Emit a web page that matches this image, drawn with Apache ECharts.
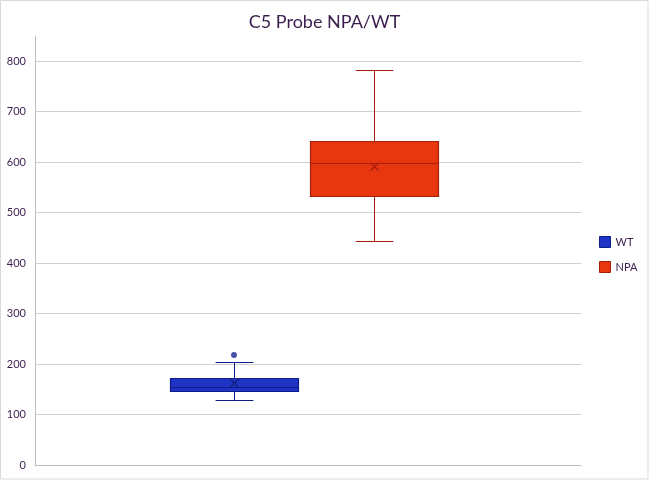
<!DOCTYPE html>
<html>
<head>
<meta charset="utf-8">
<script src="https://cdn.jsdelivr.net/npm/echarts@6/dist/echarts.min.js"></script>
<style>html,body{margin:0;padding:0;background:#fff}#c{width:649px;height:480px}</style>
</head>
<body>
<div id="c"></div>
<script>
// ---- data ----
const categories = ['WT', 'NPA'];
// [min, Q1, median, Q3, max]
const wtStats = [128, 146, 155, 172, 204];
const npaStats = [444, 532, 599, 641, 783];
const means = [162, 591];
const wtOutliers = [218];
const yTicks = [0, 100, 200, 300, 400, 500, 600, 700, 800];

const styles = [
  { fill: '#1F33C4', stroke: '#0F1D88', mark: '#14207A' },
  { fill: '#E8360F', stroke: '#A3200C', mark: '#A81E0C' }
];

const chart = echarts.init(document.getElementById('c'), null, { renderer: 'canvas' });
const font = 'Lato, "Open Sans", sans-serif';
const textColor = '#3B1E4E';

function crisp(v) { return Math.round(v) + 0.5; }

function renderBox(params, api) {
  const idx = api.value(0);
  const st = styles[idx];
  const band = api.size([1, 0])[0];
  const bw = band * 0.915;
  const cw = band * 0.27;
  const ms = 4;
  const cx = crisp(api.coord([idx, 0])[0]);
  const pMin = crisp(api.coord([idx, api.value(1)])[1]);
  const pQ1 = crisp(api.coord([idx, api.value(2)])[1]);
  const pMed = crisp(api.coord([idx, api.value(3)])[1]);
  const pQ3 = crisp(api.coord([idx, api.value(4)])[1]);
  const pMax = crisp(api.coord([idx, api.value(5)])[1]);
  const pMean = api.coord([idx, api.value(6)])[1];
  const lineStyle = { stroke: st.stroke, lineWidth: 1 };
  const bx = crisp(cx - bw / 2);
  return {
    type: 'group',
    children: [
      { type: 'line', shape: { x1: cx, y1: pMax, x2: cx, y2: pQ3 }, style: lineStyle },
      { type: 'line', shape: { x1: cx, y1: pQ1, x2: cx, y2: pMin }, style: lineStyle },
      { type: 'line', shape: { x1: cx - cw / 2, y1: pMax, x2: cx + cw / 2, y2: pMax }, style: lineStyle },
      { type: 'line', shape: { x1: cx - cw / 2, y1: pMin, x2: cx + cw / 2, y2: pMin }, style: lineStyle },
      { type: 'rect', shape: { x: bx, y: pQ3, width: Math.round(bw), height: pQ1 - pQ3 },
        style: { fill: st.fill, stroke: st.stroke, lineWidth: 1.2 } },
      { type: 'line', shape: { x1: bx, y1: pMed, x2: bx + Math.round(bw), y2: pMed }, style: lineStyle },
      { type: 'line', shape: { x1: cx - ms, y1: pMean - ms, x2: cx + ms, y2: pMean + ms }, style: { stroke: st.mark, lineWidth: 1.2 } },
      { type: 'line', shape: { x1: cx - ms, y1: pMean + ms, x2: cx + ms, y2: pMean - ms }, style: { stroke: st.mark, lineWidth: 1.2 } }
    ]
  };
}

const option = {
  backgroundColor: '#ffffff',
  animation: false,
  title: {
    text: 'C5 Probe NPA/WT',
    left: 'center',
    top: 8,
    textStyle: { fontFamily: font, fontSize: 18, fontWeight: 'normal', color: textColor }
  },
  legend: {
    orient: 'vertical',
    left: 599,
    top: 236,
    padding: 0,
    itemWidth: 11,
    itemHeight: 11,
    itemGap: 13,
    icon: 'rect',
    textStyle: { fontFamily: font, fontSize: 11, color: textColor },
    data: [
      { name: 'WT', itemStyle: { color: styles[0].fill, borderColor: styles[0].stroke, borderWidth: 1 } },
      { name: 'NPA', itemStyle: { color: styles[1].fill, borderColor: styles[1].stroke, borderWidth: 1 } }
    ]
  },
  graphic: [
    { type: 'rect', shape: { x: 0.5, y: 0.5, width: 647.5, height: 478.5 },
      style: { fill: null, stroke: '#D9D9D9', lineWidth: 1 }, silent: true, z: 100 }
  ],
  grid: [
    { left: 35, right: 68, top: 36, bottom: 15 },
    { left: 164, right: 205, top: 36, bottom: 15 }
  ],
  xAxis: [
    { type: 'category', gridIndex: 0, data: [''], axisLine: { show: true, lineStyle: { color: '#BFBFBF' } },
      axisTick: { show: false }, axisLabel: { show: false } },
    { type: 'category', gridIndex: 1, data: categories, show: false }
  ],
  yAxis: [
    { type: 'value', gridIndex: 0, min: 0, max: 850, interval: 100,
      axisLine: { show: true, lineStyle: { color: '#BFBFBF' } },
      axisTick: { show: false },
      axisLabel: { showMaxLabel: false, margin: 9, fontFamily: font, fontSize: 11, color: textColor,
        formatter: v => (yTicks.indexOf(v) >= 0 ? String(v) : '') },
      splitLine: { show: true, showMaxLine: false, lineStyle: { color: '#D0D0D0' } } },
    { type: 'value', gridIndex: 1, min: 0, max: 850, show: false, splitLine: { show: false } }
  ],
  series: [
    {
      name: 'WT', type: 'custom', xAxisIndex: 1, yAxisIndex: 1,
      itemStyle: { color: styles[0].fill },
      renderItem: renderBox,
      encode: { x: 0, y: [1, 2, 3, 4, 5] },
      data: [[0].concat(wtStats, [means[0]])]
    },
    {
      name: 'NPA', type: 'custom', xAxisIndex: 1, yAxisIndex: 1,
      itemStyle: { color: styles[1].fill },
      renderItem: renderBox,
      encode: { x: 0, y: [1, 2, 3, 4, 5] },
      data: [[1].concat(npaStats, [means[1]])]
    },
    {
      name: 'WT outliers', type: 'scatter', xAxisIndex: 1, yAxisIndex: 1,
      symbol: 'circle', symbolSize: 6,
      itemStyle: { color: '#1A2590' },
      data: wtOutliers.map(v => [0, v])
    }
  ]
};
chart.setOption(option);
</script>
</body>
</html>
